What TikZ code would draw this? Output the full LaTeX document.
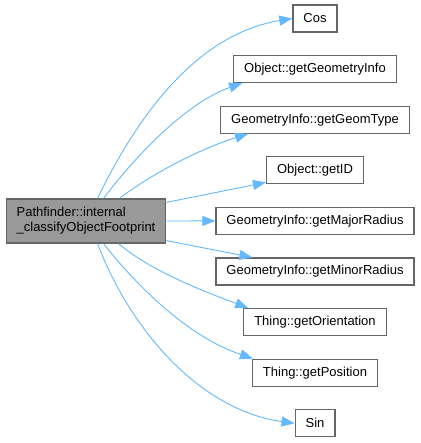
\documentclass[tikz,border=0pt]{standalone}
\usepackage{fontspec}
\setmainfont{Liberation Sans}
\usetikzlibrary{arrows.meta}

\definecolor{edgeblue}{HTML}{63B8FF}
\definecolor{boxgray}{HTML}{666666}
\definecolor{mainfill}{HTML}{999999}

\begin{document}
\begin{tikzpicture}[
    x=1pt, y=-1pt,
    callee/.style={draw=boxgray, line width=1.2pt, fill=white,
        minimum height=27pt, inner xsep=10.5pt, inner ysep=0pt,
        font=\fontsize{13}{15}\selectfont},
    caller/.style={callee, fill=mainfill, align=left, minimum height=44pt},
    call/.style={-{Triangle[length=13pt, width=10pt]}, edgeblue, line width=0.9pt}
]

\useasboundingbox (0,0) rectangle (420,443);

% ---------- Parameters ----------
\def\colx{315}
\def\rowgap{50.6}

% ---------- Caller ----------
\node[caller] (main) at (86,221)
    {Pathfinder::internal\\\_classifyObjectFootprint};

% ---------- Callees ----------
\node[callee] (cos)      at (\colx,18.5)                {Cos};
\node[callee] (geominfo) at (\colx,{18.5+1*\rowgap})    {Object::getGeometryInfo};
\node[callee] (geomtype) at (\colx,{18.5+2*\rowgap})    {GeometryInfo::getGeomType};
\node[callee] (getid)    at (\colx,{18.5+3*\rowgap})    {Object::getID};
\node[callee] (major)    at (\colx,{18.5+4*\rowgap})    {GeometryInfo::getMajorRadius};
\node[callee] (minor)    at (\colx,{18.5+5*\rowgap})    {GeometryInfo::getMinorRadius};
\node[callee] (orient)   at (\colx,{18.5+6*\rowgap})    {Thing::getOrientation};
\node[callee] (position) at (\colx,{18.5+7*\rowgap})    {Thing::getPosition};
\node[callee] (sin)      at (\colx,{18.5+8*\rowgap})    {Sin};

% ---------- Calls from the top ----------
\draw[call] ([xshift=92pt]main.north west)
    .. controls +(43,-89) and +(-92,15) .. (cos.west);
\draw[call] ([xshift=98pt]main.north west)
    .. controls +(37,-49) and +(-52,18) .. ([xshift=9pt]geominfo.south west);
\draw[call] ([xshift=114pt]main.north west)
    .. controls +(31,-24) and +(-48,15) .. ([xshift=28pt]geomtype.south west);

% ---------- Calls from the side ----------
\draw[call] ([yshift=-4pt]main.north east) -- ([yshift=2pt]getid.south west);
\draw[call] (main.east) -- (major.west);
\draw[call] ([yshift=3pt]main.south east) -- ([xshift=37pt]minor.north west);

% ---------- Calls from the bottom ----------
\draw[call] ([xshift=113pt]main.south west)
    .. controls +(32,27) and +(-48,-18) .. ([xshift=5pt]orient.north west);
\draw[call] ([xshift=98pt]main.south west)
    .. controls +(37,47) and +(-62,-21) .. ([xshift=1pt]position.north west);
\draw[call] ([xshift=92pt]main.south west)
    .. controls +(33,87) and +(-94,-13) .. (sin.west);

\end{tikzpicture}
\end{document}
